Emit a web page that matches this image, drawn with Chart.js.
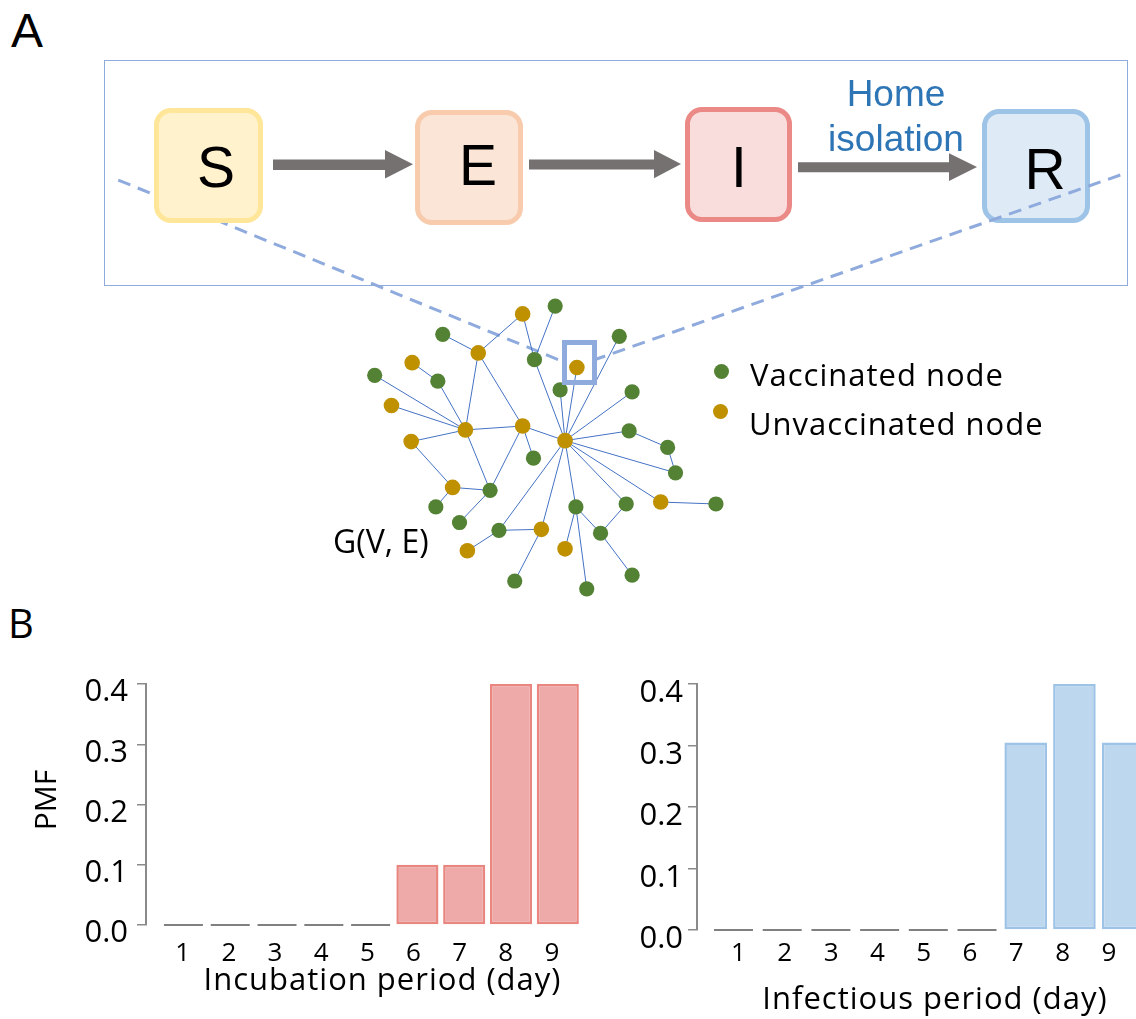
<!DOCTYPE html>
<html>
<head>
<meta charset="utf-8">
<title>SEIR on a contact network</title>
<script src="https://cdn.jsdelivr.net/npm/chart.js@4.4.1/dist/chart.umd.min.js"></script>
<style>
  html, body { margin: 0; padding: 0; background: #fff; }
  body { width: 1136px; height: 1019px; position: relative; overflow: hidden; font-family: 'Open Sans', sans-serif; color: #000; }
  .abs { position: absolute; line-height: 1; white-space: nowrap; }
  .arial { font-family: 'Liberation Sans', Arial, sans-serif; }
  .state { position: absolute; box-sizing: border-box; border: 5px solid; border-radius: 17px; }
  .letter { position: absolute; width: 100px; text-align: center; font-family: 'Liberation Sans', Arial, sans-serif; font-size: 57px; line-height: 57px; z-index: 4; }
  .dot { position: absolute; width: 15px; height: 15px; border-radius: 50%; z-index: 3; }
  canvas { display: block; }
</style>
</head>
<body>

<!-- panel A: compartment flow -->
<div class="abs arial" style="left:11px; top:7px; font-size:48px;">A</div>
<div class="abs" style="left:104px; top:60px; width:1024px; height:226px; box-sizing:border-box; border:1.5px solid #8faadc; z-index:1;"></div>

<div class="state" style="left:982px; top:109px; width:108px; height:114px; background:#deebf7; border-color:#9dc3e6; z-index:1;"></div>
<div class="state" style="left:154px; top:108px; width:109px; height:115px; background:#fff2cc; border-color:#ffe699; z-index:3;"></div>
<div class="state" style="left:415px; top:110px; width:108px; height:115px; background:#fbe5d6; border-color:#f8cbad; z-index:3;"></div>
<div class="state" style="left:685px; top:107px; width:107px; height:115px; background:#f9dcdc; border-color:#ea8985; z-index:3;"></div>

<div class="letter" style="left:166px; top:139px;">S</div>
<div class="letter" style="left:428px; top:137px;">E</div>
<div class="letter" style="left:689px; top:139px;">I</div>
<div class="letter" style="left:995px; top:141px;">R</div>

<svg class="abs" width="1136" height="300" style="left:0; top:0; z-index:3;">
  <g fill="#767171">
    <polygon points="273,159.5 385,159.5 385,150 413,164.2 385,178.5 385,170 273,170"/>
    <polygon points="529,159.5 654,159.5 654,150 681,164 654,178.3 654,169.5 529,169.5"/>
    <polygon points="798,162.3 949,162.3 949,153.3 977,167 949,181 949,172.3 798,172.3"/>
  </g>
</svg>

<div class="abs arial" style="left:796px; width:200px; text-align:center; top:74.5px; font-size:37px; color:#2e75b6; z-index:3;">Home</div>
<div class="abs arial" style="left:796px; width:200px; text-align:center; top:120.4px; font-size:37px; color:#2e75b6; z-index:3;">isolation</div>

<!-- contact network -->
<div class="abs" style="left:0; top:0; width:1136px; height:620px; z-index:2;">
  <canvas id="network" width="1136" height="620"></canvas>
</div>
<div class="abs" style="left:562px; top:340px; width:35px; height:45px; box-sizing:border-box; border:5px solid #8faadc; z-index:3;"></div>

<div class="dot" style="left:714px; top:364px; background:#548235;"></div>
<div class="dot" style="left:713px; top:404px; background:#bf9000;"></div>
<div class="abs" style="left:750px; top:359px; font-size:31px; letter-spacing:1px; z-index:3;">Vaccinated node</div>
<div class="abs" style="left:749px; top:407.5px; font-size:31px; letter-spacing:1px; z-index:3;">Unvaccinated node</div>
<div class="abs" style="left:333px; top:524.6px; font-size:32px; z-index:3;">G(V, E)</div>

<!-- panel B: period distributions -->
<div class="abs" style="left:8px; top:603px; font-size:40px;">B</div>
<div class="abs" style="left:0; top:640px; width:606px; height:379px;">
  <canvas id="incubation" width="606" height="379"></canvas>
</div>
<div class="abs" style="left:560px; top:640px; width:612px; height:379px;">
  <canvas id="infectious" width="612" height="379"></canvas>
</div>
<div class="abs" style="left:-5px; top:780px; width:100px; height:40px; line-height:40px; text-align:center; font-size:30px; transform:rotate(-90deg);">PMF</div>
<div class="abs" style="left:182.5px; width:400px; text-align:center; top:963px; font-size:31px; letter-spacing:1px;">Incubation period (day)</div>
<div class="abs" style="left:735px; width:400px; text-align:center; top:981.5px; font-size:31px; letter-spacing:1px;">Infectious period (day)</div>

<script>
// ---- network: node positions, vaccination status, contacts ----
const nodeX = [522, 477, 410, 389, 464, 522, 565, 577, 409, 451, 662, 541, 565, 466,
               555, 441, 620, 372, 436, 534, 560, 633, 630, 669, 677, 533, 489, 434,
               458, 498, 576, 627, 718, 601, 514, 587, 633];
const nodeY = [314, 354, 364, 408, 433, 429, 444, 369, 445, 492, 507, 535, 555, 557,
               306, 335, 337, 377, 383, 361, 392, 394, 434, 451, 477, 462, 495, 512,
               528, 536, 512, 509, 509, 539, 588, 596, 582];
const nodeVaccinated = [0, 0, 0, 0, 0, 0, 0, 0, 0, 0, 0, 0, 0, 0,
                        1, 1, 1, 1, 1, 1, 1, 1, 1, 1, 1, 1, 1, 1,
                        1, 1, 1, 1, 1, 1, 1, 1, 1];
const contacts = [
  [0, 1], [0, 19], [14, 19], [15, 1], [1, 4], [1, 5], [2, 18], [17, 4], [18, 4],
  [3, 4], [8, 4], [4, 5], [5, 6], [5, 25], [5, 26], [4, 26], [8, 9], [9, 26],
  [9, 27], [26, 28], [19, 6], [20, 6], [7, 6], [16, 6], [21, 6], [22, 6],
  [22, 23], [23, 24], [6, 24], [6, 10], [10, 32], [6, 31], [6, 30], [30, 12],
  [30, 35], [30, 33], [33, 31], [33, 36], [11, 29], [29, 13], [11, 34], [6, 11], [6, 29]
];
// dashed guides from the highlighted node up to the compartment diagram
const guideLeftX = [112, 560], guideLeftY = [176.7, 361.7];
const guideRightX = [1128, 597], guideRightY = [171.5, 360.3];

// ---- period distributions ----
const days = [1, 2, 3, 4, 5, 6, 7, 8, 9];
const incubationPMF = [0, 0, 0, 0, 0, 0.1, 0.1, 0.4, 0.4];
const infectiousPMF = [0, 0, 0, 0, 0, 0, 0.305, 0.4, 0.305];
const pmfTicks = [0, 0.1, 0.2, 0.3, 0.4];

Chart.defaults.font.family = "'Open Sans', sans-serif";
Chart.defaults.color = '#000';

const pt = (i) => ({ x: nodeX[i], y: nodeY[i] });
const netDatasets = [];
netDatasets.push({
  data: nodeX.map((_, i) => i).filter(i => nodeVaccinated[i] === 1).map(pt),
  pointRadius: 7.6, pointBackgroundColor: '#548235', pointBorderWidth: 0, order: 0, clip: false
});
netDatasets.push({
  data: nodeX.map((_, i) => i).filter(i => nodeVaccinated[i] === 0).map(pt),
  pointRadius: 7.8, pointBackgroundColor: '#bf9000', pointBorderWidth: 0, order: 0, clip: false
});
contacts.forEach(([a, b]) => netDatasets.push({
  data: [pt(a), pt(b)], showLine: true, pointRadius: 0,
  borderColor: '#4472c4', borderWidth: 1, order: 1, clip: false
}));
[[guideLeftX, guideLeftY], [guideRightX, guideRightY]].forEach(([gx, gy]) => netDatasets.push({
  data: gx.map((x, i) => ({ x, y: gy[i] })), showLine: true, pointRadius: 0,
  borderColor: '#8faadc', borderWidth: 3, borderDash: [13, 8], order: 2, clip: false
}));

new Chart(document.getElementById('network'), {
  type: 'scatter',
  data: { datasets: netDatasets },
  options: {
    responsive: false, animation: false, events: [],
    layout: { padding: 0 },
    plugins: { legend: { display: false }, tooltip: { enabled: false } },
    scales: {
      x: { type: 'linear', min: 0, max: 1136, display: false },
      y: { type: 'linear', min: 0, max: 620, reverse: true, display: false }
    }
  }
});

function pmfChart(id, values, look) {
  const dayTicks = s => { s.ticks = days.map(v => ({ value: v })); };
  return new Chart(document.getElementById(id), {
    type: 'bar',
    data: {
      datasets: [
        {
          type: 'bar', xAxisID: 'x', yAxisID: 'y',
          data: days.map((d, i) => ({ x: d, y: values[i] })),
          backgroundColor: look.fill, borderColor: look.edge, borderWidth: 2.5,
          borderSkipped: false, barPercentage: look.barPct, categoryPercentage: 1
        },
        {
          // zero-probability days are marked with a short grey dash on the baseline
          type: 'line', xAxisID: 'x', yAxisID: 'y', showLine: false, clip: false,
          data: days.filter((d, i) => values[i] === 0).map(d => ({ x: d, y: 0 })),
          pointStyle: 'line', pointRadius: 19.5, pointBorderWidth: 2,
          pointBorderColor: '#808080', borderColor: '#808080'
        }
      ]
    },
    options: {
      responsive: false, animation: false, events: [],
      layout: { padding: { left: 0, top: 44, right: 22, bottom: 34 } },
      plugins: { legend: { display: false }, tooltip: { enabled: false } },
      scales: {
        x: { type: 'linear', display: false, offset: false, min: look.barMin, max: look.barMax, afterBuildTicks: dayTicks },
        xt: {
          type: 'linear', position: 'bottom', offset: false, min: look.lblMin, max: look.lblMax,
          afterBuildTicks: dayTicks,
          afterFit: s => { s.height = look.xtHeight; },
          grid: { display: false, drawTicks: false },
          border: { display: false },
          ticks: { font: { size: 26 }, color: '#000', padding: look.xtPad, maxRotation: 0, autoSkip: false, callback: v => String(v) }
        },
        y: {
          min: 0, max: 0.4,
          afterBuildTicks: s => { s.ticks = pmfTicks.map(v => ({ value: v })); },
          afterFit: s => { s.width = look.yWidth; },
          grid: { drawOnChartArea: false, drawTicks: true, tickLength: 9, color: '#8a8a8a', lineWidth: 1.5 },
          border: { display: true, color: '#8a8a8a', width: 2 },
          ticks: { font: { size: 31 }, color: '#000', padding: look.yPad, labelOffset: look.yShift, callback: v => v.toFixed(1) }
        }
      }
    }
  });
}

pmfChart('incubation', incubationPMF, {
  fill: '#edaaa9', edge: '#e8867f', barPct: 0.9,
  yWidth: 146, yPad: 9, yShift: 8.5,
  barMin: 0.2, barMax: 9.56, lblMin: 0.205, lblMax: 9.694,
  xtHeight: 60, xtPad: 13
});
pmfChart('infectious', infectiousPMF, {
  fill: '#bdd7ee', edge: '#9dc3e6', barPct: 0.875,
  yWidth: 137, yPad: 5, yShift: 9.5,
  barMin: 0.2505, barMax: 9.552, lblMin: 0.1037, lblMax: 9.888,
  xtHeight: 55, xtPad: 7.5
});
</script>
</body>
</html>
